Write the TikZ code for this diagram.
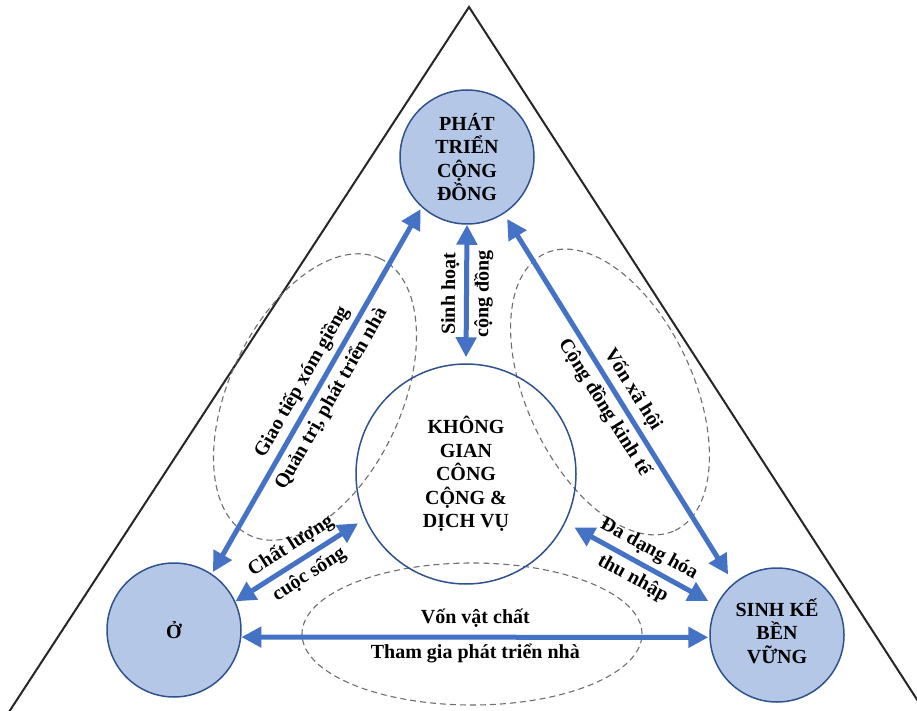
\documentclass[tikz,border=0pt]{standalone}
\usepackage{fontspec}
\setmainfont{Liberation Serif}
\usepackage{xcolor}
\usepackage{tikz}
\usetikzlibrary{arrows.meta,shapes.geometric}

\definecolor{hubfill}{RGB}{180,199,231}
\definecolor{hubline}{RGB}{47,82,143}
\definecolor{linkblue}{RGB}{68,114,196}
\definecolor{zonegray}{RGB}{110,110,110}

\begin{document}
\begin{tikzpicture}[x=1pt,y=1pt]
      \tikzstyle{hub}=[circle, draw=hubline, line width=1.5pt, fill=hubfill, minimum size=134pt, inner sep=0pt, align=center, font=\fontsize{20}{23.5}\selectfont\bfseries]
      \tikzstyle{core}=[hub, fill=none, minimum size=220pt]
      \tikzstyle{zone}=[ellipse, draw=zonegray, dash pattern=on 6pt off 4pt, line width=1.1pt, inner sep=0pt]
      \tikzstyle{link}=[{Triangle[length=20pt,width=20pt]}-{Triangle[length=20pt,width=20pt]}, draw=linkblue, line width=5pt, shorten <=2pt, shorten >=2pt]
      \tikzstyle{link_text}=[sloped, midway, font=\fontsize{20}{24}\selectfont\bfseries, inner sep=2pt]

      \useasboundingbox (0,0) rectangle (917,710);
      \clip (0,0) rectangle (917,710);
      \fill[white] (0,0) rectangle (917,710);

      \coordinate (apex) at (469,703);
      \coordinate (base_left) at (7,-5);
      \coordinate (base_right) at (927,-5);
      \draw[line width=2pt, draw=black!85] (base_left) -- (apex) -- (base_right);

      \node [zone, minimum width=306pt, minimum height=172pt, rotate=64.8] (zone_left) at (315,313) {};
      \node [zone, minimum width=306pt, minimum height=166pt, rotate=-64.8] (zone_right) at (610,318) {};
      \node [zone, minimum width=340pt, minimum height=142pt] (zone_bottom) at (472,76) {};

      \node [hub] (dev) at (467,553) {PHÁT\\TRIỂN\\CỘNG\\ĐỒNG};
      \node [hub] (home) at (174,80) {Ở};
      \node [hub, text depth=8pt] (living) at (777,75) {SINH KẾ\\BỀN\\VỮNG};
      \node [core] (space) at (466,236) {KHÔNG\\GIAN\\CÔNG\\CỘNG \&\\DỊCH VỤ};

      \draw [link] (home.56) -- (dev.228)
        node [link_text, above=3pt] (neighbours) {Giao tiếp xóm giềng}
        node [link_text, below=3pt] (housing) {Quản trị, phát triển nhà};
      \draw [link, shorten >=0pt, shorten <=6pt] (space.north) -- (dev.south)
        node [link_text, above=3pt] (activity) {Sinh hoạt}
        node [link_text, below=3pt] (community) {cộng đồng};
      \draw [link, shorten <=6pt, shorten >=10pt] (dev.-57) -- (living.130)
        node [link_text, above=3pt] (social) {Vốn xã hội}
        node [link_text, below=3pt] (economy) {Cộng đồng kinh tế};
      \draw [link, shorten <=0pt, shorten >=8pt] (home.25) -- (space.204)
        node [link_text, above=3pt] (quality) {Chất lượng}
        node [link_text, below=3pt] (life) {cuộc sống};
      \draw [link, shorten <=10pt, shorten >=9pt] (space.-26) -- (living.154)
        node [link_text, above=3pt] (diversify) {Đa dạng hóa}
        node [link_text, below=3pt] (income) {thu nhập};
      \draw [link, shorten <=0pt, shorten >=1pt] (home.-6) -- (living.182)
        node [link_text, above=5pt] (physical) {Vốn vật chất}
        node [link_text, below=2pt] (joining) {Tham gia phát triển nhà};
\end{tikzpicture}
\end{document}
